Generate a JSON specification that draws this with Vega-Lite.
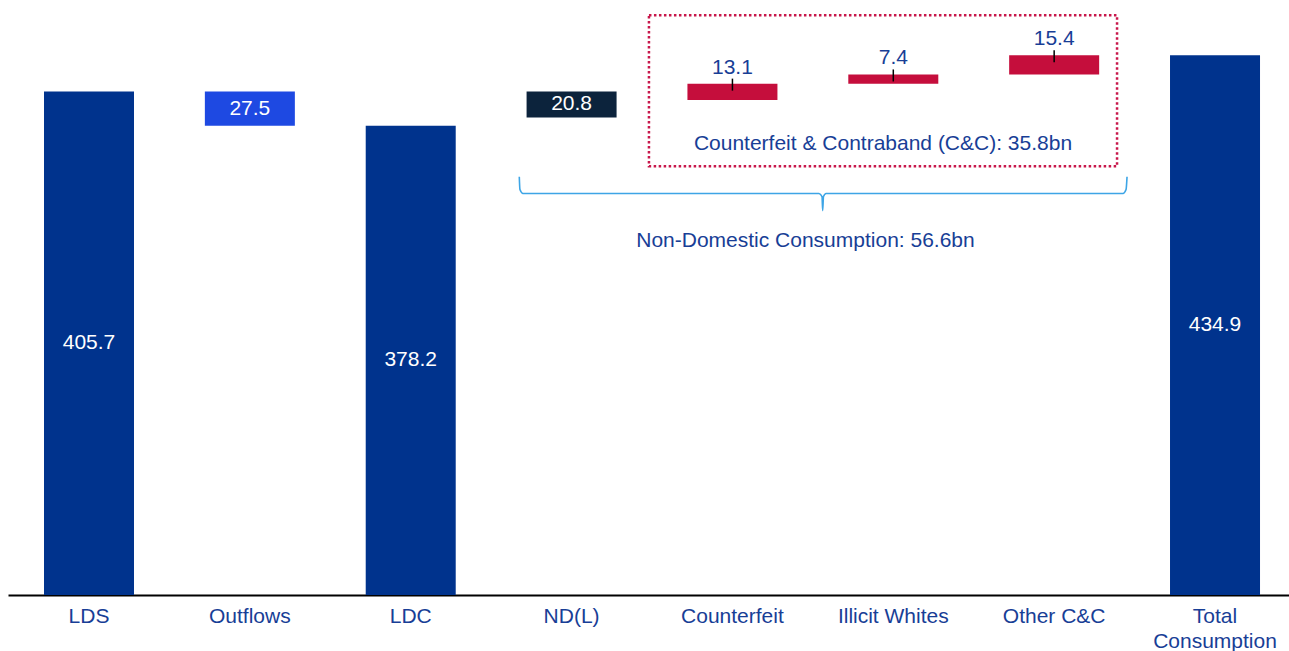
{
  "$schema": "https://vega.github.io/schema/vega-lite/v6.json",
  "width": 1281,
  "height": 595,
  "autosize": {"type": "none"},
  "padding": {"left": 8, "top": 0, "right": 0, "bottom": 56},
  "background": "white",
  "config": {"view": {"stroke": null}, "font": "Liberation Sans"},
  "datasets": {
    "bars": [
      {"category": "LDS", "start": 0, "end": 405.7, "value": 405.7, "kind": "total"},
      {"category": "Outflows", "start": 378.2, "end": 405.7, "value": 27.5, "kind": "out"},
      {"category": "LDC", "start": 0, "end": 378.2, "value": 378.2, "kind": "total"},
      {"category": "ND(L)", "start": 384.9, "end": 405.7, "value": 20.8, "kind": "nd"},
      {"category": "Counterfeit", "start": 399.0, "end": 412.1, "value": 13.1, "kind": "cc"},
      {"category": "Illicit Whites", "start": 412.1, "end": 419.5, "value": 7.4, "kind": "cc"},
      {"category": "Other C&C", "start": 419.5, "end": 434.9, "value": 15.4, "kind": "cc"},
      {"category": "Total Consumption", "start": 0, "end": 434.9, "value": 434.9, "kind": "total"}
    ],
    "box": [
      {"x1": 3.481, "x2": 6.391, "y1": 467.2, "y2": 345.5}
    ],
    "brace": [
      {"o": 1, "px": 2.675, "py": 337.0},
      {"o": 2, "px": 2.679, "py": 326.8},
      {"o": 3, "px": 2.698, "py": 323.6},
      {"o": 4, "px": 4.538, "py": 323.6},
      {"o": 5, "px": 4.557, "py": 321.1},
      {"o": 6, "px": 4.561, "py": 309.8},
      {"o": 7, "px": 4.566, "py": 321.1},
      {"o": 8, "px": 4.582, "py": 323.6},
      {"o": 9, "px": 6.428, "py": 323.6},
      {"o": 10, "px": 6.447, "py": 326.8},
      {"o": 11, "px": 6.453, "py": 337.0}
    ],
    "notes": [
      {"tx": 4.936, "ty": 363.8, "text": "Counterfeit & Contraband (C&C): 35.8bn"},
      {"tx": 4.454, "ty": 285.3, "text": "Non-Domestic Consumption: 56.6bn"}
    ]
  },
  "layer": [
    {
      "data": {"name": "bars"},
      "encoding": {
        "x": {
          "field": "category",
          "type": "nominal",
          "sort": null,
          "scale": {"paddingInner": 0.4405, "paddingOuter": 0.202, "align": 0.554},
          "axis": {
            "title": null,
            "ticks": false,
            "grid": false,
            "domainColor": "#000000",
            "domainWidth": 2,
            "labelColor": "#183E96",
            "labelFont": "Liberation Sans",
            "labelFontSize": 21,
            "labelPadding": 10,
            "labelAngle": 0,
            "labelLimit": 0,
            "labelLineHeight": 25,
            "labelBaseline": "top",
            "labelExpr": "datum.label === 'Total Consumption' ? ['Total', 'Consumption'] : datum.label"
          }
        }
      },
      "layer": [
        {
          "mark": {"type": "bar"},
          "encoding": {
            "y": {"field": "start", "type": "quantitative", "scale": {"domain": [0, 479.5], "nice": false, "zero": false}, "axis": null},
            "y2": {"field": "end"},
            "color": {
              "field": "kind",
              "type": "nominal",
              "scale": {"domain": ["total", "out", "nd", "cc"], "range": ["#00338D", "#1E49E2", "#0C233C", "#C50E3C"]},
              "legend": null
            }
          }
        },
        {
          "transform": [
            {"filter": "datum.kind !== 'cc'"},
            {"calculate": "(datum.start + datum.end) / 2", "as": "mid"}
          ],
          "mark": {"type": "text", "color": "#FFFFFF", "fontSize": 21, "baseline": "middle", "align": "center", "font": "Liberation Sans"},
          "encoding": {
            "y": {"field": "mid", "type": "quantitative", "scale": {"domain": [0, 479.5], "nice": false, "zero": false}, "axis": null},
            "text": {"field": "value", "type": "quantitative", "format": ".1f"}
          }
        },
        {
          "transform": [{"filter": "datum.kind === 'cc'"}],
          "mark": {"type": "rule", "color": "#000000", "strokeWidth": 1.5, "yOffset": -5, "y2Offset": 7},
          "encoding": {
            "y": {"field": "end", "type": "quantitative", "scale": {"domain": [0, 479.5], "nice": false, "zero": false}, "axis": null},
            "y2": {"field": "end"}
          }
        },
        {
          "transform": [{"filter": "datum.kind === 'cc'"}],
          "mark": {"type": "text", "color": "#183E96", "fontSize": 21, "baseline": "middle", "align": "center", "dy": -16, "font": "Liberation Sans"},
          "encoding": {
            "y": {"field": "end", "type": "quantitative", "scale": {"domain": [0, 479.5], "nice": false, "zero": false}, "axis": null},
            "text": {"field": "value", "type": "quantitative", "format": ".1f"}
          }
        }
      ]
    },
    {
      "layer": [
        {
          "data": {"name": "box"},
          "mark": {"type": "rect", "fillOpacity": 0, "stroke": "#C8174B", "strokeWidth": 2.5, "strokeDash": [2.5, 2.5]},
          "encoding": {
            "x": {"field": "x1", "type": "quantitative", "scale": {"domain": [-0.5035, 7.4599], "nice": false, "zero": false}, "axis": null},
            "x2": {"field": "x2"},
            "y": {"field": "y1", "type": "quantitative", "scale": {"domain": [0, 479.5], "nice": false, "zero": false}, "axis": null},
            "y2": {"field": "y2"}
          }
        },
        {
          "data": {"name": "brace"},
          "mark": {"type": "line", "color": "#3DA5E6", "strokeWidth": 1.6, "interpolate": "monotone"},
          "encoding": {
            "x": {"field": "px", "type": "quantitative", "scale": {"domain": [-0.5035, 7.4599], "nice": false, "zero": false}, "axis": null},
            "y": {"field": "py", "type": "quantitative", "scale": {"domain": [0, 479.5], "nice": false, "zero": false}, "axis": null},
            "order": {"field": "o", "type": "quantitative"}
          }
        },
        {
          "data": {"name": "notes"},
          "mark": {"type": "text", "color": "#183E96", "fontSize": 21, "baseline": "middle", "align": "center", "font": "Liberation Sans"},
          "encoding": {
            "x": {"field": "tx", "type": "quantitative", "scale": {"domain": [-0.5035, 7.4599], "nice": false, "zero": false}, "axis": null},
            "y": {"field": "ty", "type": "quantitative", "scale": {"domain": [0, 479.5], "nice": false, "zero": false}, "axis": null},
            "text": {"field": "text", "type": "nominal"}
          }
        }
      ]
    }
  ],
  "resolve": {"scale": {"x": "independent"}}
}
